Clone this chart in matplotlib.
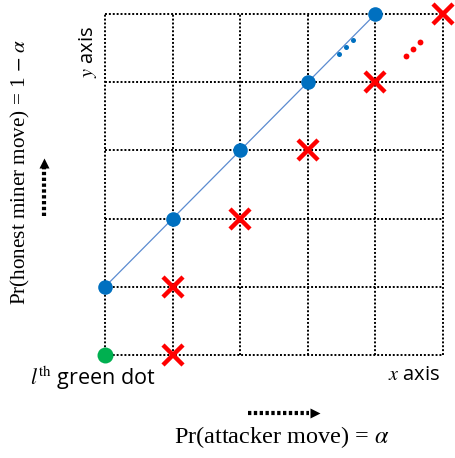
import numpy as np
import matplotlib.pyplot as plt

plt.rcParams['mathtext.fontset'] = 'stix'

# grid of states
grid_pos = [0, 1, 2, 3, 4, 5]

# blue dots on the diagonal path
blue_x = [0, 1, 2, 3, 4]
blue_y = [1, 2, 3, 4, 5]
# green start dot
green_x = [0]
green_y = [0]
# red crosses
red_x = [1, 1, 2, 3, 4, 5]
red_y = [0, 1, 2, 3, 4, 5]
# small ellipsis dots
blue_dots_x = [3.46, 3.565, 3.67]
blue_dots_y = [4.41, 4.52, 4.62]
red_dots_x = [4.45, 4.56, 4.66]
red_dots_y = [4.38, 4.49, 4.59]

W, H = 455, 458
fig = plt.figure(figsize=(W / 100, H / 100), dpi=100)
ax = fig.add_axes([105 / W, 1 - 355 / H, (443 - 105) / W, (355 - 14) / H])
ax.set_xlim(0, 5)
ax.set_ylim(0, 5)
ax.axis('off')

for p in grid_pos:
    ax.plot([p, p], [0, 5], color='black', lw=1.4, ls=(0, (1, 1)), clip_on=False, zorder=1)
    ax.plot([0, 5], [p, p], color='black', lw=1.4, ls=(0, (1, 1)), clip_on=False, zorder=1)

ax.plot(blue_x, blue_y, color='#5b8bd0', lw=0.9, zorder=2, clip_on=False)
ax.plot(blue_x, blue_y, 'o', color='#0070C0', ms=10.5, mec='none', zorder=3, clip_on=False)
ax.plot(green_x, green_y, 'o', color='#00B050', ms=11.5, mec='none', zorder=3, clip_on=False)
ax.plot(red_x, red_y, 'x', color='#FF0000', ms=14, mew=3.2, zorder=4, clip_on=False)
ax.plot(blue_dots_x, blue_dots_y, 'o', color='#0070C0', ms=3.6, mec='none', zorder=3)
ax.plot(red_dots_x, red_dots_y, 'o', color='#FF0000', ms=4.2, mec='none', zorder=3)

def fx(px):
    return px / W

def fy(py):
    return 1 - py / H

serif = 'Liberation Serif'
fig.text(fx(20), fy(172), r'Pr(honest miner move) = 1 $-$ $\alpha$', rotation=90,
         ha='center', va='center', fontsize=15.2, family=serif)
fig.text(fx(282), fy(437), r'Pr(attacker move) = $\alpha$',
         ha='center', va='center', fontsize=17.5, family=serif)
fig.text(fx(88), fy(52), r'$y$ axis', rotation=90, ha='center', va='center',
         fontsize=14.5, family='Open Sans')
fig.text(fx(414), fy(375), r'$x$ axis', ha='center', va='center',
         fontsize=14.5, family='Open Sans')
fig.text(fx(93), fy(378), r'$l^{\mathrm{th}}$ green dot', ha='center', va='center',
         fontsize=15.5, family='Open Sans')

fig.add_artist(plt.Line2D([fx(248), fx(309)], [fy(413), fy(413)], color='black',
                          lw=3, ls=(0, (0.8, 0.6)), transform=fig.transFigure))
fig.add_artist(plt.Line2D([fx(315)], [fy(413)], marker='>', color='black', ms=7,
                          mec='none', transform=fig.transFigure))
fig.add_artist(plt.Line2D([fx(44), fx(44)], [fy(216), fy(168)], color='black',
                          lw=3, ls=(0, (0.8, 0.6)), transform=fig.transFigure))
fig.add_artist(plt.Line2D([fx(44)], [fy(163)], marker='^', color='black', ms=7,
                          mec='none', transform=fig.transFigure))

fig.savefig('out.png', dpi=100)
